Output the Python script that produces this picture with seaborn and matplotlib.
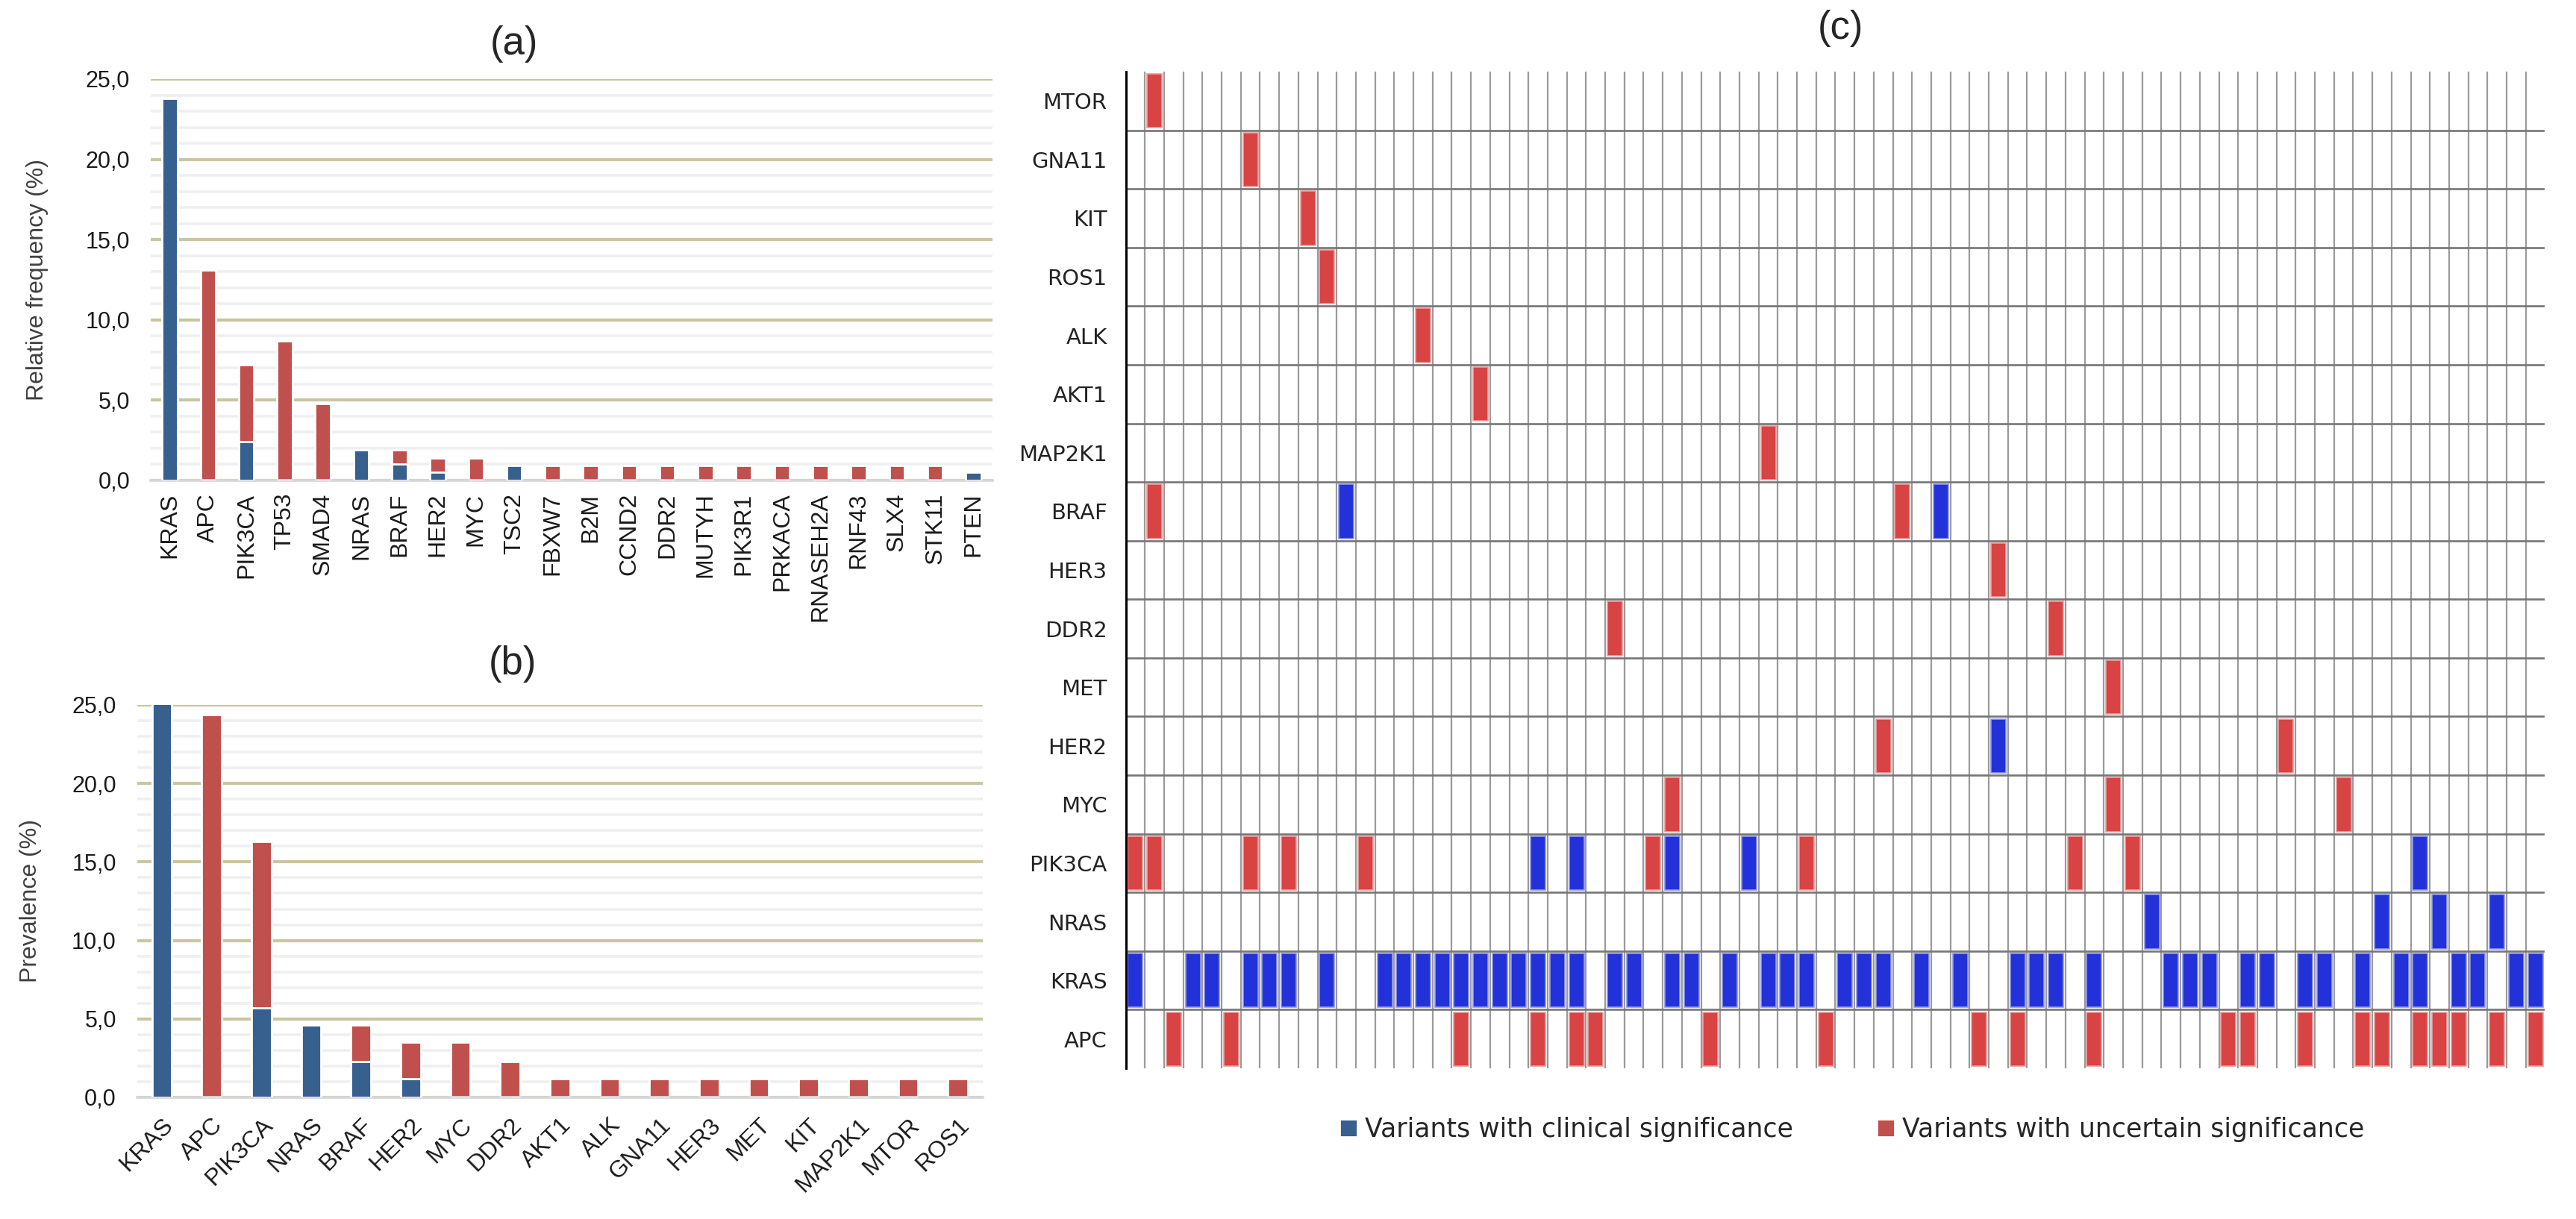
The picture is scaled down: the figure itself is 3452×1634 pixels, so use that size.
import matplotlib
matplotlib.use("Agg")
import matplotlib.pyplot as plt
from matplotlib.patches import Patch
from matplotlib.ticker import FuncFormatter, MultipleLocator
import numpy as np
import seaborn as sns

# ---- panel (a): relative frequency of variants per gene ----
genes_a = ["KRAS", "APC", "PIK3CA", "TP53", "SMAD4", "NRAS", "BRAF", "HER2", "MYC",
           "TSC2", "FBXW7", "B2M", "CCND2", "DDR2", "MUTYH", "PIK3R1", "PRKACA",
           "RNASEH2A", "RNF43", "SLX4", "STK11", "PTEN"]
clinical_a = [23.8, 0, 2.4, 0, 0, 1.9, 1.0, 0.5, 0, 0.95, 0, 0, 0, 0, 0, 0, 0,
              0, 0, 0, 0, 0.5]
uncertain_a = [0, 13.1, 4.8, 8.7, 4.8, 0, 0.9, 0.9, 1.4, 0, 0.95, 0.95, 0.95, 0.95,
               0.95, 0.95, 0.95, 0.95, 0.95, 0.95, 0.95, 0]

# ---- panel (b): prevalence per gene ----
genes_b = ["KRAS", "APC", "PIK3CA", "NRAS", "BRAF", "HER2", "MYC", "DDR2", "AKT1",
           "ALK", "GNA11", "HER3", "MET", "KIT", "MAP2K1", "MTOR", "ROS1"]
clinical_b = [25.3, 0, 5.7, 4.6, 2.3, 1.2, 0, 0, 0, 0, 0, 0, 0, 0, 0, 0, 0]
uncertain_b = [0, 24.4, 10.6, 0, 2.3, 2.3, 3.5, 2.3, 1.2, 1.2, 1.2, 1.2, 1.2, 1.2,
               1.2, 1.2, 1.2]

# ---- panel (c): oncoprint, sample columns with a variant per gene ----
onco_genes = ["MTOR", "GNA11", "KIT", "ROS1", "ALK", "AKT1", "MAP2K1", "BRAF", "HER3",
              "DDR2", "MET", "HER2", "MYC", "PIK3CA", "NRAS", "KRAS", "APC"]
n_samples = 74
onco_clinical = {
    "BRAF": [11, 42],
    "HER2": [45],
    "PIK3CA": [21, 23, 28, 32, 67],
    "NRAS": [53, 65, 68, 71],
    "KRAS": [0, 3, 4, 6, 7, 8, 10, 13, 14, 15, 16, 17, 18, 19, 20, 21, 22, 23, 25,
             26, 28, 29, 31, 33, 34, 35, 37, 38, 39, 41, 43, 46, 47, 48, 50, 54, 55,
             56, 58, 59, 61, 62, 64, 66, 67, 69, 70, 72, 73],
}
onco_uncertain = {
    "MTOR": [1],
    "GNA11": [6],
    "KIT": [9],
    "ROS1": [10],
    "ALK": [15],
    "AKT1": [18],
    "MAP2K1": [33],
    "BRAF": [1, 40],
    "HER3": [45],
    "DDR2": [25, 48],
    "MET": [51],
    "HER2": [39, 60],
    "MYC": [28, 51, 63],
    "PIK3CA": [0, 1, 6, 8, 12, 27, 35, 49, 52],
    "APC": [2, 5, 17, 21, 23, 24, 30, 36, 44, 46, 50, 57, 58, 61, 64, 65, 67, 68,
            69, 71, 73],
}

BLUE = "#37608f"
RED = "#c0504d"
C_BLUE = "#2332d8"
C_RED = "#d84343"
KHAKI = "#cbc5a0"

sns.set_style("white")
plt.rcParams["font.family"] = ["Liberation Sans", "DejaVu Sans"]

fig = plt.figure(figsize=(17.26, 8.17), dpi=200)

comma = FuncFormatter(lambda v, p: f"{v:.1f}".replace(".", ","))


def excel_bars(ax, genes, clinical, uncertain, ylabel):
    total = [c + u for c, u in zip(clinical, uncertain)]
    sns.barplot(x=genes, y=total, color=RED, width=0.4, saturation=1,
                errorbar=None, ax=ax, zorder=2)
    sns.barplot(x=genes, y=clinical, color=BLUE, width=0.4, saturation=1,
                errorbar=None, ax=ax, zorder=3)
    ax.set_ylim(0, 25)
    ax.yaxis.set_major_locator(MultipleLocator(5))
    ax.yaxis.set_minor_locator(MultipleLocator(1))
    ax.yaxis.set_major_formatter(comma)
    ax.grid(False)
    ax.yaxis.grid(True, which="major", color=KHAKI, lw=1.5)
    ax.yaxis.grid(True, which="minor", color="#efefef", lw=1.3)
    ax.set_axisbelow(True)
    for side in ["top", "right", "left"]:
        ax.spines[side].set_visible(False)
    ax.spines["bottom"].set_color("#d6d6d6")
    ax.spines["bottom"].set_linewidth(1.3)
    ax.tick_params(which="both", length=0, labelsize=11, colors="#1a1a1a")
    ax.tick_params(axis="x", labelsize=11.5)
    ax.tick_params(axis="y", pad=10)
    ax.set_ylabel(ylabel, fontsize=11.5, color="#404040")


# panel (a)
ax_a = fig.add_axes([0.05852, 0.60588, 0.32677, 0.32925])
excel_bars(ax_a, genes_a, clinical_a, uncertain_a, "Relative frequency (%)")
ax_a.tick_params(axis="x", labelrotation=90, pad=6)
ax_a.yaxis.set_label_coords(-0.1215, 0.5)

# panel (b)
ax_b = fig.add_axes([0.05319, 0.09976, 0.32833, 0.32191])
excel_bars(ax_b, genes_b, clinical_b, uncertain_b, "Prevalence (%)")
for lbl in ax_b.get_xticklabels():
    lbl.set_rotation(45)
    lbl.set_ha("right")
    lbl.set_rotation_mode("anchor")
ax_b.tick_params(axis="x", pad=8)
ax_b.yaxis.set_label_coords(-0.1126, 0.5)

# panel (c)
ax_c = fig.add_axes([0.43702, 0.12362, 0.55093, 0.81763])
n_genes = len(onco_genes)
ax_c.vlines(np.arange(1, n_samples), -0.5, n_genes - 0.5, color="#9a9a9a", lw=0.8, zorder=1)
ax_c.hlines(np.arange(0.5, n_genes - 1), 0, n_samples, color="#767676", lw=0.95, zorder=1)

for cols_by_gene, color, edge in [(onco_clinical, C_BLUE, "#8f97ea"),
                                  (onco_uncertain, C_RED, "#eba0a0")]:
    xs, ys = [], []
    for gene, cols in cols_by_gene.items():
        row = onco_genes.index(gene)
        xs += [c + 0.5 for c in cols]
        ys += [row] * len(cols)
    ax_c.bar(xs, 0.92, bottom=np.array(ys) - 0.46, width=0.78, color=color,
             edgecolor=edge, linewidth=0.6, zorder=2)

ax_c.set_xlim(0, n_samples)
ax_c.set_ylim(n_genes - 0.5, -0.5)
ax_c.set_yticks(range(n_genes))
ax_c.set_yticklabels(onco_genes, family="DejaVu Sans", fontsize=10.5, color="#222222")
ax_c.set_xticks([])
ax_c.tick_params(axis="y", length=4, width=1.2, color="#555555", pad=5)
for side in ["top", "right", "bottom"]:
    ax_c.spines[side].set_visible(False)
ax_c.spines["left"].set_color("black")
ax_c.spines["left"].set_linewidth(1.1)

# panel titles
fig.text(0.1996, 0.9639, "(a)", fontsize=19, ha="center", va="center")
fig.text(0.1990, 0.4553, "(b)", fontsize=19, ha="center", va="center")
fig.text(0.7144, 0.9767, "(c)", fontsize=19, ha="center", va="center")

# shared legend
handles = [Patch(facecolor=BLUE, label="Variants with clinical significance"),
           Patch(facecolor=RED, label="Variants with uncertain significance")]
fig.legend(handles=handles, loc="center", bbox_to_anchor=(0.7189, 0.0734), ncol=2,
           frameon=False, prop={"family": "DejaVu Sans", "size": 12.5},
           handlelength=0.7, handleheight=0.7, handletextpad=0.3, columnspacing=3.2)

fig.savefig("out.png", dpi=200)
